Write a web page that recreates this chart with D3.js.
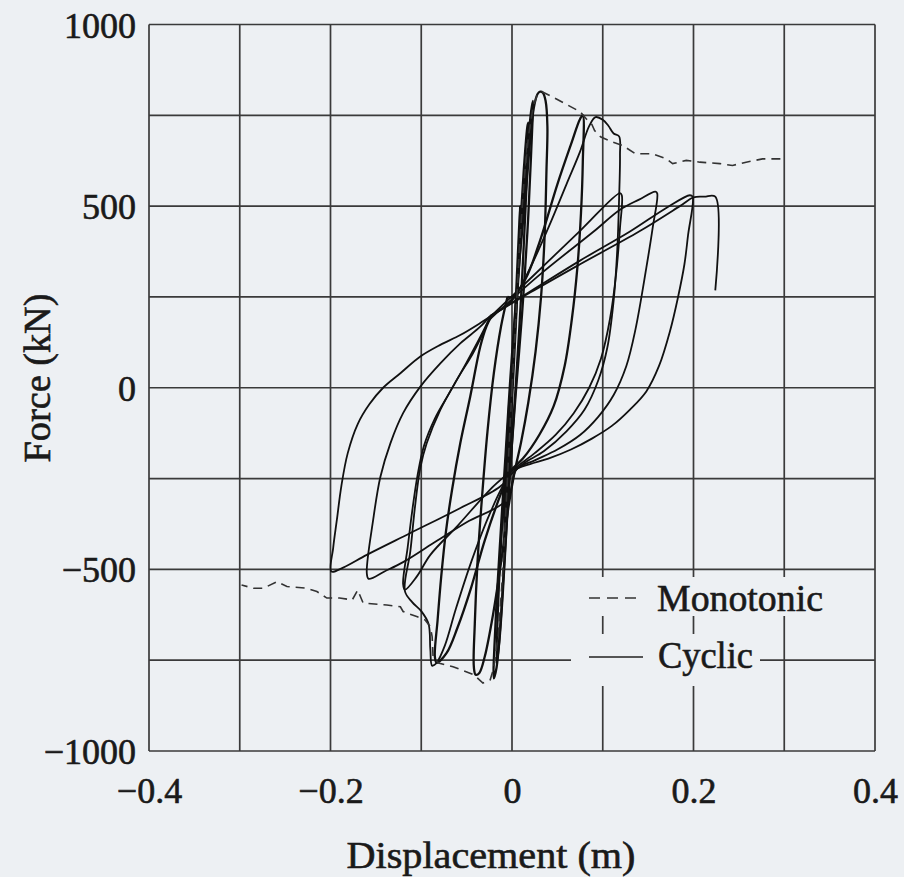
<!DOCTYPE html>
<html>
<head>
<meta charset="utf-8">
<script src="https://cdn.jsdelivr.net/npm/d3@7"></script>
<style>
  html, body { margin: 0; padding: 0; background: #edf0f3; }
  svg { display: block; }
  text { font-family: "Liberation Serif", "DejaVu Serif", serif; fill: #1a1a1a; }
</style>
</head>
<body>
<svg id="chart" width="904" height="877"></svg>
<script>
// ---------- data (displacement in m, force in kN) ----------
const xTicks = [-0.4, -0.2, 0, 0.2, 0.4];
const xTickLabels = ["\u22120.4", "\u22120.2", "0", "0.2", "0.4"];
const yTicks = [1000, 500, 0, -500, -1000];
const yTickLabels = ["1000", "500", "0", "\u2212500", "\u22121000"];
const xGrid = [-0.4, -0.3, -0.2, -0.1, 0, 0.1, 0.2, 0.3, 0.4];
const yGrid = [-1000, -750, -500, -250, 0, 250, 500, 750, 1000];
const seriesNames = ["Monotonic", "Cyclic"];

const monotonicPos = [[0,0],[0.004,180],[0.008,380],[0.013,560],[0.018,690],[0.023,770],[0.028,808],[0.033,815],[0.045,800],[0.06,780],[0.075,760],[0.082,740],[0.088,725],[0.091,708],[0.098,690],[0.111,676],[0.122,667],[0.136,644],[0.155,644],[0.17,630],[0.177,617],[0.192,626],[0.207,621],[0.229,617],[0.243,612],[0.258,621],[0.276,630],[0.298,630]];
const monotonicNeg = [[0,0],[-0.005,-250],[-0.01,-500],[-0.015,-680],[-0.02,-770],[-0.024,-804],[-0.032,-813],[-0.042,-790],[-0.065,-768],[-0.081,-758],[-0.087,-740],[-0.088,-685],[-0.09,-658],[-0.096,-639],[-0.105,-630],[-0.12,-616],[-0.123,-603],[-0.138,-598],[-0.164,-593],[-0.17,-557],[-0.176,-584],[-0.19,-579],[-0.204,-579],[-0.215,-561],[-0.226,-552],[-0.248,-547],[-0.259,-534],[-0.274,-552],[-0.285,-552],[-0.298,-543]];

const cyclicSmall = [[0,0],[0.004,230],[0.008,450],[0.009,500],[0.007,330],[0.002,60],[-0.003,-180],[-0.007,-400],[-0.009,-480],[-0.007,-300],[-0.002,-40],[0.002,120],[0.008,400],[0.013,600],[0.017,720],[0.018,730],[0.015,500],[0.01,250],[0.004,0],[-0.004,-300],[-0.01,-560],[-0.014,-700],[-0.017,-760],[-0.014,-520],[-0.008,-260],[-0.003,-40]];
const cyclic002 = [[-0.003,-40],[0.003,150],[0.009,380],[0.014,560],[0.018,680],[0.021,760],[0.023,790],[0.021,640],[0.017,430],[0.011,200],[0.004,-20],[-0.003,-260],[-0.009,-500],[-0.013,-660],[-0.017,-770],[-0.02,-800],[-0.018,-640],[-0.013,-420],[-0.007,-180],[-0.002,20],[0.004,230]];
const cyclic003 = [[0.004,230],[0.01,400],[0.016,560],[0.02,680],[0.024,770],[0.028,808],[0.031,815],[0.034,812],[0.037,790],[0.039,720],[0.038,600],[0.036,420],[0.032,250],[0.026,100],[0.018,-40],[0.01,-150],[0.003,-230],[-0.004,-330],[-0.012,-480],[-0.022,-640],[-0.03,-740],[-0.036,-785],[-0.04,-790],[-0.042,-770],[-0.041,-650],[-0.038,-480],[-0.033,-300],[-0.027,-120],[-0.02,40],[-0.012,170],[-0.005,250]];
const cyclic008 = [[-0.005,250],[0.0,250],[0.015,300],[0.031,406],[0.05,560],[0.065,670],[0.075,740],[0.078,750],[0.078,620],[0.076,480],[0.072,330],[0.066,190],[0.058,60],[0.046,-50],[0.03,-130],[0.012,-195],[-0.002,-230],[-0.012,-290],[-0.03,-420],[-0.045,-550],[-0.06,-660],[-0.072,-730],[-0.083,-757],[-0.085,-740],[-0.082,-640],[-0.078,-520],[-0.073,-400],[-0.066,-280],[-0.057,-153],[-0.046,-24],[-0.035,113],[-0.028,170],[-0.022,200]];
const cyclic012a = [[-0.022,200],[0.0,240],[0.02,330],[0.04,440],[0.06,560],[0.075,650],[0.085,720],[0.092,745],[0.1,738],[0.106,722],[0.112,700],[0.118,692],[0.119,640],[0.118,520],[0.116,380],[0.112,240],[0.105,110],[0.095,20],[0.08,-60],[0.06,-120],[0.035,-175],[0.012,-210],[-0.005,-250],[-0.025,-350],[-0.045,-480],[-0.062,-610],[-0.074,-710],[-0.083,-757],[-0.088,-765],[-0.09,-720],[-0.092,-650],[-0.1,-615],[-0.11,-590],[-0.118,-560],[-0.112,-450],[-0.107,-330],[-0.101,-220],[-0.094,-153],[-0.079,-61],[-0.061,21],[-0.043,95],[-0.032,150],[-0.024,195]];
const cyclic012b = [[-0.024,195],[0.02,300],[0.075,432],[0.119,536],[0.121,530],[0.119,440],[0.115,320],[0.108,190],[0.098,80],[0.085,0],[0.068,-70],[0.048,-130],[0.025,-180],[0.005,-218],[-0.02,-270],[-0.06,-380],[-0.09,-460],[-0.105,-520],[-0.118,-556],[-0.12,-540],[-0.115,-440],[-0.11,-340],[-0.104,-240],[-0.097,-160],[-0.085,-85],[-0.068,-10],[-0.05,70],[-0.035,140],[-0.026,185]];
const cyclic016 = [[-0.026,185],[0.03,310],[0.09,430],[0.119,490],[0.14,518],[0.158,540],[0.16,535],[0.155,440],[0.148,330],[0.136,160],[0.126,60],[0.112,-20],[0.095,-80],[0.075,-130],[0.05,-170],[0.025,-200],[0.005,-225],[-0.006,-309],[-0.05,-370],[-0.087,-428],[-0.12,-480],[-0.14,-505],[-0.158,-526],[-0.16,-510],[-0.153,-364],[-0.145,-245],[-0.134,-153],[-0.12,-70],[-0.101,3],[-0.079,67],[-0.057,122],[-0.035,168],[-0.024,198]];
const cyclic020 = [[-0.024,198],[0.02,265],[0.075,350],[0.13,430],[0.17,495],[0.196,530],[0.199,526],[0.194,420],[0.19,340],[0.183,250],[0.174,155],[0.162,60],[0.148,-10],[0.13,-60],[0.11,-105],[0.088,-140],[0.065,-170],[0.04,-195],[0.02,-210],[0.004,-225],[-0.013,-272],[-0.06,-335],[-0.112,-400],[-0.16,-460],[-0.186,-495],[-0.199,-506],[-0.197,-440],[-0.193,-364],[-0.188,-270],[-0.181,-180],[-0.17,-100],[-0.157,-45],[-0.142,0],[-0.123,40],[-0.101,86],[-0.079,118],[-0.057,145],[-0.035,178],[-0.024,196]];
const cyclicFinal = [[-0.024,196],[0.02,262],[0.075,340],[0.14,430],[0.185,500],[0.2,524],[0.212,526],[0.224,526],[0.224,268]];

const cyclicLoops = [cyclicSmall, cyclic002, cyclic003, cyclic008, cyclic012a, cyclic012b, cyclic016, cyclic020, cyclicFinal];

// ---------- drawing ----------
const svg = d3.select("#chart");
const W = 904, H = 877;
const plot = {left: 149, right: 875, top: 24.5, bottom: 751};
const bg = "#edf0f3";

svg.append("rect").attr("width", W).attr("height", H).attr("fill", bg);

const x = d3.scaleLinear().domain([-0.4, 0.4]).range([plot.left, plot.right]);
const y = d3.scaleLinear().domain([-1000, 1000]).range([plot.bottom, plot.top]);

const gridColor = "#3a3a3a";
const grid = svg.append("g");
grid.selectAll("line.vx").data(xGrid).join("line")
  .attr("x1", d => x(d)).attr("x2", d => x(d))
  .attr("y1", plot.top).attr("y2", plot.bottom)
  .attr("stroke", gridColor).attr("stroke-width", 1.7);
grid.selectAll("line.hy").data(yGrid).join("line")
  .attr("y1", d => y(d)).attr("y2", d => y(d))
  .attr("x1", plot.left).attr("x2", plot.right)
  .attr("stroke", gridColor).attr("stroke-width", 1.7);

const textStyle = sel => sel.attr("font-family", "Liberation Serif, serif")
  .attr("fill", "#1a1a1a").attr("stroke", "#1a1a1a").attr("stroke-width", 0.6);

const xAxis = d3.axisBottom(x).tickValues(xTicks).tickSize(0).tickPadding(0)
  .tickFormat((d, i) => xTickLabels[i]);
const gx = svg.append("g").attr("transform", `translate(0, ${plot.bottom + 34})`).call(xAxis);
gx.select(".domain").remove();
gx.selectAll("text").attr("font-size", 36).attr("dy", "0.5em").call(textStyle);

const yAxis = d3.axisLeft(y).tickValues(yTicks).tickSize(0).tickPadding(13)
  .tickFormat((d, i) => yTickLabels[i]);
const gy = svg.append("g").attr("transform", `translate(${plot.left}, 0)`).call(yAxis);
gy.select(".domain").remove();
gy.selectAll("text").attr("font-size", 36).attr("dy", "0.35em").call(textStyle);

// titles
svg.append("text").attr("x", 491).attr("y", 868).attr("text-anchor", "middle")
  .attr("font-size", 38).attr("textLength", 289).attr("lengthAdjust", "spacingAndGlyphs")
  .text("Displacement (m)").call(textStyle);
svg.append("text").attr("transform", "translate(50, 378) rotate(-90)").attr("text-anchor", "middle")
  .attr("font-size", 38).attr("textLength", 169).attr("lengthAdjust", "spacingAndGlyphs")
  .text("Force (kN)").call(textStyle);

// curves
const line = d3.line().x(d => x(d[0])).y(d => y(d[1])).curve(d3.curveCatmullRom.alpha(0.5));
const lineLin = d3.line().x(d => x(d[0])).y(d => y(d[1]));

const curves = svg.append("g");
curves.selectAll("path.cyc").data(cyclicLoops).join("path")
  .attr("d", line).attr("fill", "none")
  .attr("stroke", "#111").attr("stroke-width", (d, i) => i < 4 ? 2.3 : 1.8)
  .attr("stroke-linejoin", "round");

curves.selectAll("path.mono").data([monotonicPos, monotonicNeg]).join("path")
  .attr("d", lineLin).attr("fill", "none")
  .attr("stroke", "#333").attr("stroke-width", 1.6).attr("stroke-dasharray", "9,6");

// legend
const legend = svg.append("g");
legend.append("rect").attr("x", 584).attr("y", 577).attr("width", 242).attr("height", 39).attr("fill", bg);
legend.append("rect").attr("x", 571).attr("y", 634).attr("width", 189).attr("height", 52).attr("fill", bg);
legend.append("line").attr("x1", 589).attr("x2", 643).attr("y1", 598).attr("y2", 598)
  .attr("stroke", "#333").attr("stroke-width", 1.6).attr("stroke-dasharray", "11,7");
legend.append("line").attr("x1", 589).attr("x2", 643).attr("y1", 657).attr("y2", 657)
  .attr("stroke", "#555").attr("stroke-width", 1.8);
legend.append("text").attr("x", 657).attr("y", 611).attr("font-size", 38)
  .attr("textLength", 166).attr("lengthAdjust", "spacingAndGlyphs").text(seriesNames[0]).call(textStyle);
legend.append("text").attr("x", 658).attr("y", 668).attr("font-size", 38)
  .attr("textLength", 95).attr("lengthAdjust", "spacingAndGlyphs").text(seriesNames[1]).call(textStyle);
</script>
</body>
</html>
